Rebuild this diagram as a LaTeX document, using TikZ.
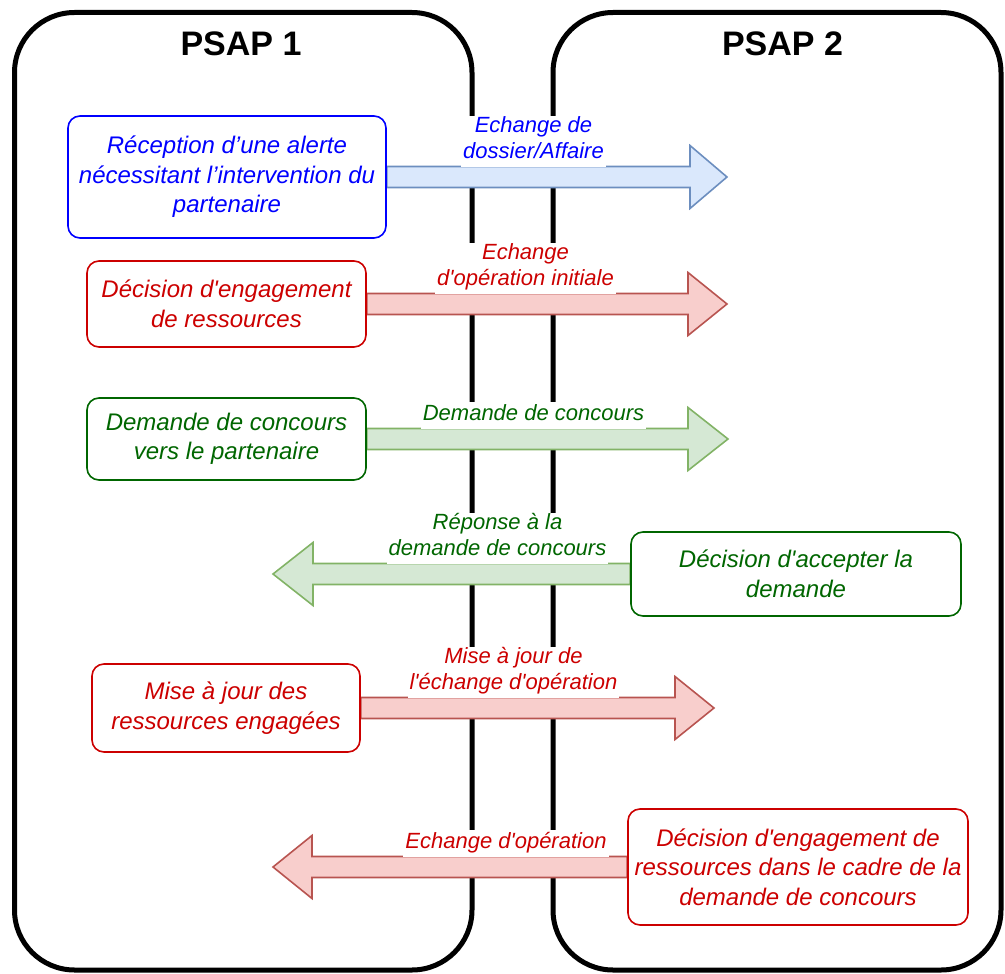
\documentclass[tikz,border=0pt]{standalone}
\usepackage{fontspec}
\newfontfamily\arial{Liberation Sans}
\usetikzlibrary{calc}

\definecolor{txtblue}{HTML}{0000FF}
\definecolor{txtred}{HTML}{CC0000}
\definecolor{txtgreen}{HTML}{006600}
\definecolor{blueF}{HTML}{DAE8FC}
\definecolor{blueD}{HTML}{6C8EBF}
\definecolor{redF}{HTML}{F8CECC}
\definecolor{redD}{HTML}{B85450}
\definecolor{greenF}{HTML}{D5E8D4}
\definecolor{greenD}{HTML}{82B366}

\pgfdeclarelayer{back}
\pgfdeclarelayer{mid}
\pgfsetlayers{back,mid,main}

% block arrow: style, start, tip, head length
\newcommand\blockarrow[4]{%
  \path ($(#3)!#4!(#2)$) coordinate (hb);
  \draw[#1] ($(#2)!10.5pt!90:(#3)$) -- ($(hb)!10.5pt!90:(#3)$)
    -- ($(hb)!31.5pt!90:(#3)$) -- (#3) -- ($(hb)!31.5pt!-90:(#3)$)
    -- ($(hb)!10.5pt!-90:(#3)$) -- ($(#2)!10.5pt!-90:(#3)$) -- cycle;}

\tikzset{
  psap/.style={draw, line width=5pt, rounded corners=60pt, inner sep=0pt},
  title/.style={font=\arial\fontsize{34}{38}\selectfont\bfseries, inner sep=0pt},
  stepbox/.style={draw, fill=white, line width=1.6pt, rounded corners=12pt,
    align=center, inner sep=0pt, font=\arial\fontsize{24}{29.5}\selectfont\itshape},
  msg/.style={fill=white, align=center, inner xsep=2pt, inner ysep=0.5pt,
    anchor=south, font=\arial\fontsize{22}{26.4}\selectfont\itshape,
    execute at begin node=\strut, execute at end node=\strut},
  barblue/.style={fill=blueF, draw=blueD, line width=1.6pt},
  barred/.style={fill=redF, draw=redD, line width=1.6pt},
  bargreen/.style={fill=greenF, draw=greenD, line width=1.6pt},
  bluebox/.style={stepbox, draw=txtblue, text=txtblue},
  redbox/.style={stepbox, draw=txtred, text=txtred},
  greenbox/.style={stepbox, draw=txtgreen, text=txtgreen},
}

\begin{document}
\begin{tikzpicture}[x=1pt, y=-1pt]
\useasboundingbox (0,0) rectangle (1005,974);

% the two centres
\begin{pgfonlayer}{back}
  \node[psap, minimum width=457.5pt, minimum height=957.5pt] (psap1) at (243.25,491.25) {};
  \node[psap, minimum width=448pt, minimum height=957.5pt] (psap2) at (777,491.25) {};
\end{pgfonlayer}
\node[title] (t-psap1) at (241,43.5) {PSAP 1};
\node[title] (t-psap2) at (782.5,43.5) {PSAP 2};

% steps
\node[bluebox, minimum width=318pt, minimum height=122pt] (b1) at (227,177)
  {Réception d’une alerte\\nécessitant l’intervention du\\partenaire};
\node[redbox, minimum width=279pt, minimum height=86pt] (b2) at (226.5,304)
  {Décision d'engagement\\de ressources};
\node[greenbox, minimum width=279pt, minimum height=82pt] (b3) at (226.5,439)
  {Demande de concours\\vers le partenaire};
\node[greenbox, minimum width=330pt, minimum height=84pt] (b4) at (796,574)
  {Décision d'accepter la\\demande};
\node[redbox, minimum width=268pt, minimum height=88pt] (b5) at (226,708)
  {Mise à jour des\\ressources engagées};
\node[redbox, minimum width=340pt, minimum height=116pt] (b6) at (798,867)
  {Décision d'engagement de\\ressources dans le cadre de la\\demande de concours};

% arrow tips
\coordinate (t1) at (727,177);
\coordinate (t2) at (727,304);
\coordinate (t3) at (728,439);
\coordinate (t4) at (273,574);
\coordinate (t5) at (714,708);
\coordinate (t6) at (273,867);

% exchanges
\begin{pgfonlayer}{mid}
  \blockarrow{barblue}{b1.east}{t1}{37pt}
  \blockarrow{barred}{b2.east}{t2}{39pt}
  \blockarrow{bargreen}{b3.east}{t3}{40pt}
  \blockarrow{bargreen}{b4.west}{t4}{40pt}
  \blockarrow{barred}{b5.east}{t5}{39pt}
  \blockarrow{barred}{b6.west}{t6}{39pt}
\end{pgfonlayer}

% exchange labels
\node[msg, text=txtblue] (l1) at (533.5,167.5) {Echange de\\dossier/Affaire};
\node[msg, text=txtred] (l2) at (525.5,294.5) {Echange\\d'opération initiale};
\node[msg, text=txtgreen] (l3) at (533.5,429.5) {Demande de concours};
\node[msg, text=txtgreen] (l4) at (497.5,564.5) {Réponse à la\\demande de concours};
\node[msg, text=txtred] (l5) at (513.5,698.5) {Mise à jour de\\l'échange d'opération};
\node[msg, text=txtred] (l6) at (506,857.5) {Echange d'opération};
\end{tikzpicture}
\end{document}
